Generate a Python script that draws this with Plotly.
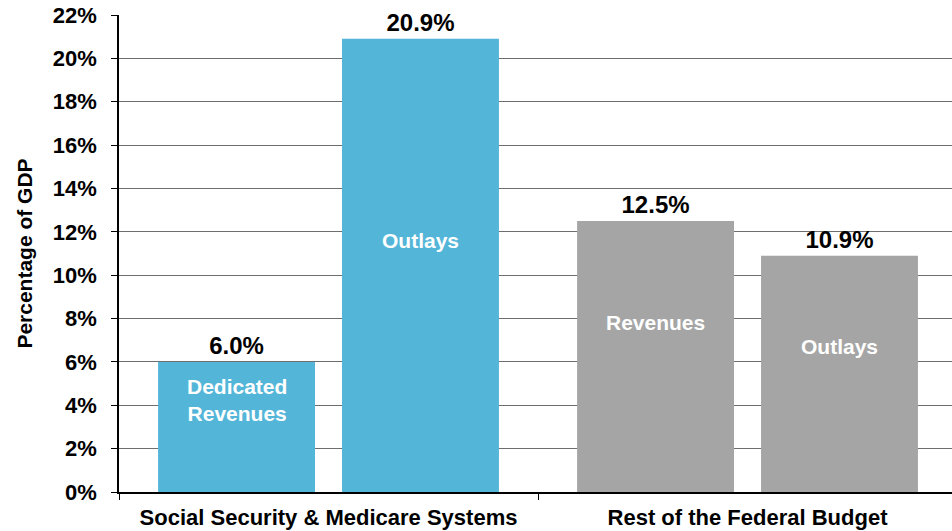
import plotly.graph_objects as go

categories = ["Social Security & Medicare Systems", "Rest of the Federal Budget"]
first_vals = [6.0, 12.5]
second_vals = [20.9, 10.9]
first_names = ["Dedicated<br>Revenues", "Revenues"]
second_names = ["Outlays", "Outlays"]
first_label_y = [4.25, 7.84]
second_label_y = [11.6, 6.69]
colors = ["#53B5D8", "#A5A5A5"]

FONT = "Arial, 'Liberation Sans', sans-serif"
bargap = 0.122
bargroupgap = 0.147

fig = go.Figure()
for vals in (first_vals, second_vals):
    fig.add_trace(go.Bar(
        x=categories, y=vals, marker=dict(color=colors, line=dict(width=0)),
        texttemplate="<b>%{y:.1f}%</b>", textposition="outside",
        textfont=dict(family=FONT, size=24, color="black"), cliponaxis=False,
        showlegend=False, hoverinfo="skip"))

off = (1 - bargap) / 4
for i in range(len(categories)):
    fig.add_annotation(x=i - off, y=first_label_y[i], text="<b>" + first_names[i] + "</b>",
                       showarrow=False, font=dict(family=FONT, size=21, color="white"))
    fig.add_annotation(x=i + off, y=second_label_y[i], text="<b>" + second_names[i] + "</b>",
                       showarrow=False, font=dict(family=FONT, size=21, color="white"))

fig.update_layout(
    width=952, height=531,
    margin=dict(l=119, r=0, t=15, b=39, autoexpand=False),
    paper_bgcolor="white", plot_bgcolor="white",
    barmode="group", bargap=bargap, bargroupgap=bargroupgap,
    font=dict(family=FONT, color="black"),
)
fig.update_xaxes(
    type="category", range=[-0.5, 1.488], automargin=False,
    showline=True, linecolor="black", linewidth=1.5,
    ticks="outside", tickson="boundaries", ticklen=6, tickcolor="black",
    tickfont=dict(family=FONT, size=22, color="black"),
    tickprefix="<b>", ticksuffix="</b>",
    ticklabelstandoff=5,
    showgrid=False, zeroline=False,
)
fig.update_yaxes(
    range=[0, 22], dtick=2, tick0=0, automargin=False,
    ticksuffix="%</b>", tickprefix="<b>",
    showline=True, linecolor="black", linewidth=1.5,
    ticks="outside", ticklen=6, tickcolor="black",
    tickfont=dict(family=FONT, size=22, color="black"),
    ticklabelstandoff=10,
    showgrid=True, gridcolor="#6e6e6e", gridwidth=1,
    zeroline=False,
    title=dict(text="<b>Percentage of GDP</b>", font=dict(family=FONT, size=21, color="black"), standoff=14),
)

fig.write_html("out.html", config={"displayModeBar": False},
               post_script="document.body.style.margin='0';document.body.style.overflow='hidden';")
